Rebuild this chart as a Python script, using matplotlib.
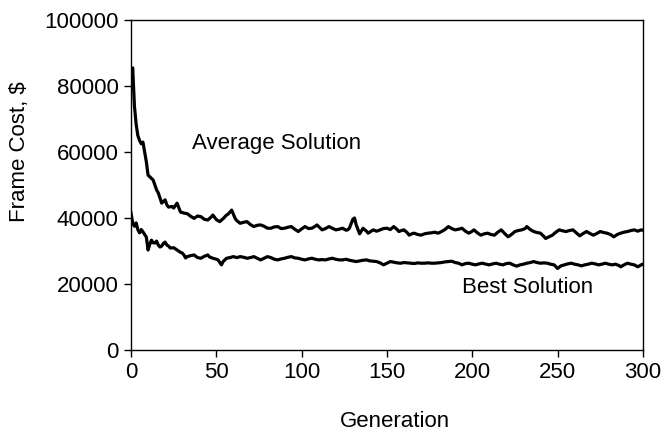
import matplotlib
matplotlib.use("Agg")
import matplotlib.pyplot as plt

# ---------------- data ----------------
avg_gen = [0, 1, 2, 3, 4, 5, 6, 7, 8, 9, 10, 11, 12, 13, 14, 15, 16, 17, 18, 19,
           20, 21, 22, 24, 25, 27, 29, 31, 33, 35, 37, 39, 41, 43, 45, 47, 48, 50,
           52, 54, 56, 57, 59, 61, 62, 64, 66, 68, 70, 72, 74, 76, 78, 80, 82, 84,
           86, 88, 90, 92, 94, 96, 98, 100, 102, 104, 106, 108, 109, 111, 112, 114,
           116, 118, 120, 122, 124, 126, 127, 128, 130, 131, 132, 134, 136, 138,
           139, 141, 142, 144, 146, 148, 150, 152, 154, 156, 157, 159, 160, 162,
           163, 165, 166, 168, 170, 172, 174, 176, 178, 180, 182, 184, 186, 188,
           190, 192, 194, 196, 198, 200, 201, 203, 205, 207, 209, 211, 213, 215,
           217, 219, 221, 223, 225, 227, 229, 231, 232, 234, 236, 238, 240, 242,
           243, 245, 247, 249, 251, 253, 255, 257, 259, 261, 263, 265, 267, 269,
           271, 273, 275, 277, 279, 281, 283, 285, 287, 289, 291, 293, 295, 297,
           299, 300]
avg_cost = [84.0, 85.5, 74.0, 68.5, 65.0, 63.5, 62.5, 63.0, 60.0, 57.0, 53.0, 52.5,
            52.0, 51.5, 50.0, 48.5, 47.6, 46.0, 44.5, 45.0, 45.5, 44.0, 43.3, 43.5,
            43.0, 44.5, 41.8, 41.5, 41.3, 40.5, 39.9, 40.6, 40.4, 39.6, 39.4, 40.3,
            40.9, 39.5, 38.9, 39.8, 40.9, 41.2, 42.4, 39.9, 39.2, 38.4, 38.7, 38.9,
            38.0, 37.4, 37.8, 37.9, 37.5, 36.9, 36.9, 37.3, 37.4, 36.8, 36.9, 37.2,
            37.4, 36.6, 35.9, 36.7, 37.4, 36.8, 36.9, 37.5, 37.9, 36.9, 36.4, 36.8,
            37.4, 36.9, 36.4, 36.6, 36.9, 36.3, 36.4, 36.9, 39.6, 40.0, 37.9, 35.2,
            36.9, 36.0, 35.4, 36.1, 36.4, 36.0, 36.4, 36.8, 36.9, 36.5, 37.4, 36.5,
            35.9, 36.3, 36.4, 35.5, 34.8, 35.3, 35.4, 35.0, 34.8, 35.2, 35.4, 35.5,
            35.7, 35.4, 35.9, 36.5, 37.4, 36.8, 36.4, 36.6, 36.9, 36.0, 35.4, 36.0,
            36.4, 35.5, 34.8, 35.2, 35.4, 35.0, 34.8, 35.7, 36.4, 35.3, 34.3, 35.0,
            35.9, 36.2, 36.4, 36.8, 37.4, 36.5, 35.9, 35.6, 35.4, 34.4, 33.8, 34.3,
            34.8, 35.7, 36.4, 36.1, 35.9, 36.2, 36.4, 35.5, 34.6, 35.3, 35.9, 35.3,
            34.8, 35.3, 35.9, 35.6, 35.4, 35.0, 34.3, 35.0, 35.4, 35.7, 35.9, 36.2,
            36.4, 36.0, 36.4, 36.3]

best_gen = [0, 1, 2, 3, 4, 5, 6, 7, 8, 9, 10, 11, 12, 13, 14, 15, 16, 17, 18, 19,
            20, 21, 22, 23, 25, 27, 29, 30, 31, 32, 33, 35, 37, 39, 41, 43, 45, 46,
            48, 50, 51, 53, 54, 56, 58, 60, 62, 64, 66, 68, 70, 72, 74, 76, 78, 80,
            82, 84, 86, 88, 90, 92, 94, 96, 98, 100, 102, 104, 106, 108, 110, 112,
            114, 116, 118, 120, 122, 124, 126, 128, 130, 132, 134, 136, 138, 140,
            142, 144, 146, 148, 150, 152, 154, 156, 158, 160, 162, 164, 166, 168,
            170, 172, 174, 176, 178, 180, 182, 184, 186, 188, 190, 192, 194, 196,
            198, 200, 202, 204, 206, 208, 210, 212, 214, 216, 218, 220, 222, 224,
            226, 228, 230, 232, 234, 236, 238, 240, 242, 244, 246, 248, 250, 252,
            254, 256, 258, 260, 262, 264, 266, 268, 270, 272, 274, 276, 278, 280,
            282, 284, 286, 287, 289, 291, 293, 295, 297, 299, 300]
best_cost = [41.5, 38.5, 37.5, 38.5, 36.5, 35.5, 36.5, 35.8, 35.0, 34.2, 30.3, 32.0,
             33.3, 32.5, 32.4, 33.0, 31.8, 31.2, 31.5, 32.3, 32.7, 31.8, 31.5, 30.9,
             31.0, 30.3, 29.6, 29.4, 28.8, 27.9, 28.3, 28.6, 28.8, 28.0, 27.8, 28.4,
             28.8, 28.2, 27.8, 27.5, 27.3, 25.8, 26.8, 27.8, 28.0, 28.3, 28.0, 28.3,
             28.1, 27.8, 28.0, 28.3, 27.8, 27.3, 27.8, 28.3, 28.0, 27.5, 27.3, 27.6,
             27.8, 28.1, 28.3, 27.9, 27.8, 27.5, 27.3, 27.6, 27.8, 27.5, 27.3, 27.4,
             27.3, 27.6, 27.8, 27.5, 27.3, 27.3, 27.5, 27.2, 27.0, 26.8, 27.0, 27.2,
             27.3, 27.0, 26.9, 26.8, 26.4, 25.8, 26.3, 26.8, 26.6, 26.4, 26.3, 26.5,
             26.4, 26.3, 26.2, 26.4, 26.3, 26.3, 26.4, 26.3, 26.3, 26.4, 26.5, 26.7,
             26.8, 26.9, 26.5, 26.3, 25.8, 26.2, 26.3, 26.0, 25.8, 26.1, 26.3, 26.0,
             25.8, 26.1, 26.3, 26.0, 25.8, 26.2, 26.3, 25.8, 25.4, 25.8, 26.0, 26.3,
             26.5, 26.8, 26.5, 26.3, 26.4, 26.3, 26.0, 25.8, 24.7, 25.5, 25.8, 26.1,
             26.3, 26.0, 25.8, 25.5, 25.8, 26.0, 26.3, 26.1, 25.8, 26.0, 26.3, 26.0,
             25.8, 26.0, 25.6, 25.2, 25.8, 26.3, 26.0, 25.8, 25.2, 25.8, 26.0]

x_ticks = [0, 50, 100, 150, 200, 250, 300]
y_ticks = [0, 20000, 40000, 60000, 80000, 100000]
# ------------------------------------------------------------

plt.rcParams['font.family'] = ['Liberation Sans', 'DejaVu Sans']

fig = plt.figure(figsize=(6.67, 4.33), dpi=100)
ax = fig.add_axes([0.1964, 0.1917, 0.7674, 0.7621])

ax.plot(avg_gen, [v * 1000 for v in avg_cost], color='black', lw=2.3)
ax.plot(best_gen, [v * 1000 for v in best_cost], color='black', lw=2.3)

ax.set_xlim(0, 300)
ax.set_ylim(0, 100000)
ax.set_xticks(x_ticks)
ax.set_yticks(y_ticks)
ax.set_yticklabels([str(t) for t in y_ticks])
ax.tick_params(direction='out', length=5, width=1.0, labelsize=16, pad=4,
               top=False, right=False)
for sp in ax.spines.values():
    sp.set_linewidth(1.0)

ax.set_xlabel("Generation", fontsize=16)
ax.xaxis.set_label_coords(0.516, -0.185)
ax.set_ylabel("Frame Cost, $", fontsize=16, va='center')
ax.yaxis.set_label_coords(-0.217, 0.60)

ax.text(35.7, 62700, "Average Solution", fontsize=16, va='center', ha='left')
ax.text(194, 18800, "Best Solution", fontsize=16, va='center', ha='left')

fig.savefig("out.png", dpi=100)
